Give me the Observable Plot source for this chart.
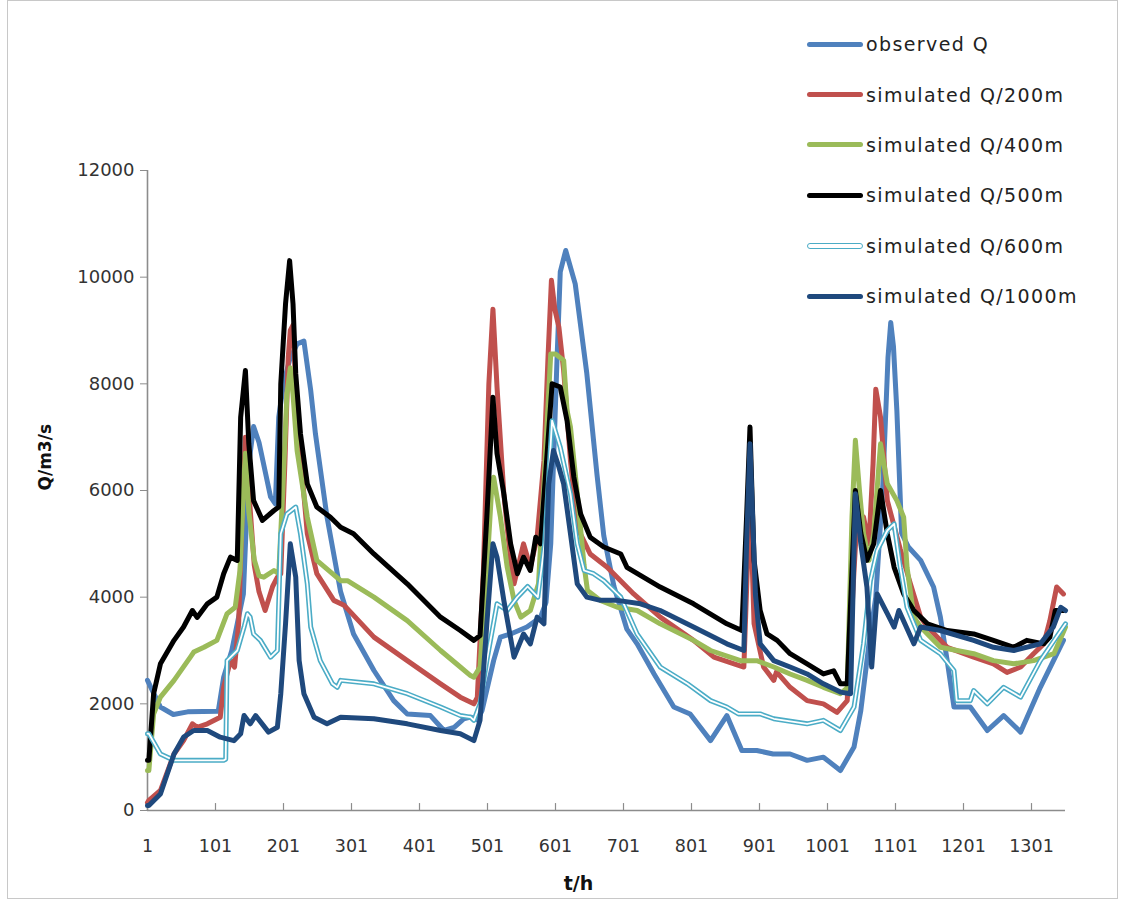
<!DOCTYPE html>
<html>
<head>
<meta charset="utf-8">
<script src="https://cdn.jsdelivr.net/npm/d3@7"></script>
<script src="https://cdn.jsdelivr.net/npm/@observablehq/plot@0.6"></script>
<style>
  body { margin: 0; background: #fff; }
  #wrap { position: relative; width: 1124px; height: 902px; overflow: hidden; }
  #frame { position: absolute; left: 7px; top: 0px; width: 1111px; height: 899px; border: 1.5px solid #c8c8c8; box-sizing: border-box; pointer-events: none; }
  #legend { position: absolute; left: 807px; top: 19px; font-family: "DejaVu Sans", sans-serif; font-size: 19px; letter-spacing: 1.4px; color: #222; }
  .row { display: flex; align-items: center; height: 50.4px; }
  .swatch { width: 56px; height: 5px; border-radius: 3px; margin-right: 3px; box-sizing: border-box; }
</style>
</head>
<body>
<div id="wrap">
  <div id="chart"></div>
  <div id="legend"></div>
  <div id="frame"></div>
</div>
<script>
// ---- tick labels and titles ----
const xTicks = [1, 101, 201, 301, 401, 501, 601, 701, 801, 901, 1001, 1101, 1201, 1301];
const yTicks = [0, 2000, 4000, 6000, 8000, 10000, 12000];
const xTitle = "t/h";
const yTitle = "Q/m3/s";

// ---- series names and colours ----
const seriesNames = ["observed Q", "simulated Q/200m", "simulated Q/400m", "simulated Q/500m", "simulated Q/600m", "simulated Q/1000m"];
const seriesColors = ["#4F81BD", "#C0504D", "#9BBB59", "#000000", "#4BACC6", "#1F497D"];

// ---- series values: [hour, discharge m3/s] ----
const observedQ = [[1,2440],[10,2200],[20,1940],[39,1800],[60,1850],[105,1860],[113,2500],[125,3000],[133,3500],[142,4060],[150,6500],[157,7200],[165,6900],[175,6300],[182,5880],[189,5750],[194,7375],[201,8000],[210,8450],[221,8750],[231,8800],[241,7880],[248,7060],[265,5500],[285,4100],[304,3310],[334,2625],[363,2060],[383,1810],[417,1780],[437,1500],[452,1560],[466,1720],[476,1750],[486,1700],[493,1875],[510,2810],[520,3250],[535,3310],[559,3440],[579,3625],[587,3900],[594,5000],[603,8375],[608,10100],[616,10500],[630,9875],[647,8200],[662,6300],[672,5150],[687,4200],[706,3400],[721,3125],[746,2560],[775,1940],[799,1810],[829,1310],[853,1780],[875,1125],[897,1125],[921,1060],[946,1060],[971,940],[995,1000],[1020,750],[1040,1190],[1050,1875],[1062,3125],[1072,4000],[1082,6000],[1090,8500],[1094,9150],[1098,8700],[1103,7500],[1110,5200],[1120,4940],[1138,4690],[1157,4190],[1167,3625],[1177,2810],[1187,1940],[1211,1940],[1236,1500],[1260,1780],[1285,1470],[1314,2310],[1348,3190]];

const simQ200 = [[1,150],[3,190],[20,375],[40,1060],[54,1310],[67,1625],[74,1560],[89,1625],[108,1750],[113,2310],[123,2810],[129,2690],[135,3500],[140,5500],[145,7000],[150,6000],[158,4600],[165,4100],[174,3750],[185,4200],[192,4375],[197,4440],[203,6500],[208,8500],[211,9000],[215,9100],[221,7375],[236,5190],[250,4440],[275,3940],[290,3850],[334,3250],[383,2810],[432,2375],[461,2125],[481,2000],[486,2120],[495,4500],[503,8000],[509,9400],[515,7940],[525,5940],[535,4690],[540,4250],[554,5000],[564,4560],[574,5125],[584,6560],[590,8500],[595,9940],[600,9400],[606,9060],[613,8250],[623,6560],[633,5310],[652,4810],[677,4560],[716,4060],[755,3625],[804,3190],[834,2875],[878,2690],[883,4500],[887,6000],[893,3500],[907,2690],[922,2440],[926,2600],[946,2310],[971,2060],[995,2000],[1015,1840],[1030,2060],[1040,4500],[1045,5600],[1054,5500],[1062,5000],[1068,6500],[1072,7900],[1079,7375],[1089,5810],[1108,4900],[1123,4250],[1138,3625],[1148,3440],[1177,3060],[1216,2875],[1245,2750],[1265,2590],[1285,2690],[1304,2940],[1319,3125],[1328,3560],[1338,4190],[1348,4060]];

const simQ400 = [[1,750],[3,750],[10,1810],[20,2125],[40,2440],[64,2875],[69,2970],[84,3060],[103,3190],[118,3690],[130,3810],[137,4500],[142,6000],[145,6700],[150,5600],[158,4700],[165,4400],[172,4375],[187,4500],[194,4440],[200,6000],[206,7800],[211,8300],[215,7800],[221,6750],[236,5500],[250,4690],[285,4310],[295,4310],[334,4000],[383,3560],[432,3000],[461,2690],[476,2530],[481,2500],[490,2690],[500,4500],[507,6000],[510,6250],[520,5500],[530,4560],[540,3940],[550,3625],[564,3750],[576,4250],[584,6125],[594,8560],[601,8560],[613,8440],[618,7500],[623,7190],[633,5940],[643,4600],[648,4125],[667,3940],[692,3810],[721,3750],[755,3500],[804,3190],[829,3000],[873,2810],[897,2810],[922,2690],[946,2560],[971,2440],[995,2310],[1020,2190],[1030,2300],[1037,5500],[1042,6940],[1048,6000],[1054,5190],[1062,4690],[1069,5190],[1079,6875],[1089,6125],[1103,5810],[1113,5500],[1118,4560],[1128,3625],[1138,3440],[1167,3060],[1216,2940],[1245,2810],[1275,2750],[1304,2810],[1334,2940],[1351,3440]];

const simQ500 = [[1,940],[3,940],[10,2190],[20,2750],[40,3190],[54,3440],[67,3750],[74,3620],[89,3875],[103,4000],[113,4440],[121,4690],[123,4750],[133,4690],[138,7375],[145,8250],[150,6875],[157,5810],[170,5440],[187,5625],[194,5690],[197,8000],[204,9500],[210,10310],[215,9500],[219,8190],[226,7060],[236,6125],[250,5690],[270,5500],[285,5310],[304,5190],[334,4810],[383,4250],[432,3625],[461,3375],[481,3190],[490,3280],[500,5500],[509,7750],[515,6690],[525,5940],[535,5000],[545,4440],[554,4750],[564,4500],[572,5125],[579,5000],[589,6750],[596,8000],[608,7940],[618,7310],[628,6250],[638,5560],[652,5125],[672,4940],[697,4810],[706,4560],[755,4190],[804,3875],[853,3500],[875,3375],[882,5500],[887,7190],[893,4690],[902,3750],[912,3310],[927,3190],[946,2940],[971,2750],[995,2560],[1010,2620],[1020,2375],[1030,2375],[1037,4500],[1042,6000],[1050,5200],[1059,4690],[1069,5000],[1079,6000],[1089,5190],[1099,4560],[1113,4060],[1128,3750],[1148,3500],[1177,3375],[1216,3310],[1245,3190],[1275,3060],[1294,3190],[1319,3125],[1328,3250],[1336,3750],[1348,3750]];

const simQ600 = [[1,1440],[3,1440],[20,1060],[40,940],[113,940],[116,960],[118,2810],[133,3000],[143,3440],[148,3690],[152,3625],[157,3310],[167,3190],[182,2875],[192,3000],[197,5190],[206,5560],[219,5690],[226,5190],[236,4250],[241,3440],[255,2810],[273,2375],[280,2310],[285,2440],[334,2375],[383,2190],[432,1940],[461,1780],[476,1750],[481,1690],[490,2000],[500,2810],[515,3875],[530,3750],[545,4000],[560,4200],[575,4000],[585,5000],[596,7310],[608,6810],[623,5940],[633,5000],[643,4500],[657,4440],[672,4310],[697,4000],[721,3310],[755,2690],[795,2375],[829,2060],[853,1940],[870,1810],[902,1810],[922,1720],[971,1625],[995,1690],[1020,1500],[1040,1940],[1054,3125],[1064,4300],[1074,4875],[1089,5250],[1099,5375],[1108,4560],[1118,3810],[1138,3190],[1167,2940],[1187,2625],[1191,2060],[1211,2060],[1216,2250],[1236,2000],[1260,2310],[1285,2125],[1314,2810],[1351,3500]];

const simQ1000 = [[1,94],[3,94],[20,310],[40,1060],[54,1375],[69,1500],[89,1500],[108,1375],[128,1310],[138,1440],[143,1780],[152,1625],[160,1780],[179,1470],[192,1560],[197,2190],[204,3500],[211,5000],[219,4375],[224,2810],[231,2190],[246,1750],[265,1625],[285,1750],[334,1720],[383,1625],[432,1500],[461,1440],[481,1310],[490,1690],[500,3500],[509,5000],[515,4750],[525,3940],[540,2875],[554,3310],[564,3125],[574,3625],[584,3500],[591,6125],[598,6750],[606,6440],[613,6125],[623,5190],[633,4250],[647,4000],[667,3940],[692,3940],[726,3875],[755,3750],[804,3440],[853,3125],[878,3000],[882,5000],[887,6875],[895,4060],[902,3125],[922,2810],[946,2690],[971,2560],[995,2375],[1020,2220],[1035,2190],[1042,5940],[1050,5000],[1059,4190],[1066,2690],[1074,4060],[1089,3690],[1099,3440],[1106,3750],[1128,3125],[1138,3440],[1167,3375],[1216,3190],[1245,3060],[1275,3000],[1314,3125],[1333,3440],[1344,3810],[1351,3750]];

const seriesValues = [observedQ, simQ200, simQ400, simQ500, simQ600, simQ1000];

// build a tidy table for the library
const rows = seriesValues.flatMap((vals, i) => vals.map(([t, q]) => ({series: seriesNames[i], t, q})));

const axisGray = "#8c8c8c";
const textColor = "#333";
const lineW = 5;

const lineMarks = seriesNames.flatMap((name, i) => {
  const data = rows.filter(d => d.series === name);
  const base = Plot.line(data, {x: "t", y: "q", stroke: seriesColors[i], strokeWidth: lineW, strokeLinejoin: "round", strokeLinecap: "round"});
  if (name === "simulated Q/600m") {
    return [base, Plot.line(data, {x: "t", y: "q", stroke: "#ffffff", strokeWidth: 1.8, strokeLinejoin: "round", strokeLinecap: "round"})];
  }
  return [base];
});

const chart = Plot.plot({
  width: 1124,
  height: 902,
  marginLeft: 147,
  marginRight: 59,
  marginTop: 170,
  marginBottom: 92,
  style: {fontFamily: '"DejaVu Sans", sans-serif', fontSize: "18px", color: textColor, background: "transparent", overflow: "visible"},
  x: {domain: [1, 1351], inset: 0},
  y: {domain: [0, 12000], inset: 0},
  marks: [
    Plot.axisY({ticks: yTicks, tickSize: 7, tickPadding: 6, tickFormat: d3.format("d"), label: null, stroke: axisGray, fill: textColor, fontSize: 18}),
    Plot.axisX({ticks: xTicks, tickSize: 0, tickPadding: 29, tickFormat: d => String(d), label: null, fill: textColor, fontSize: 17.5}),
    Plot.ruleX(xTicks, {y1: 0, y2: 130, stroke: axisGray, strokeWidth: 1.2}),
    Plot.ruleY([0], {stroke: axisGray, strokeWidth: 1.6}),
    Plot.ruleX([1], {stroke: axisGray, strokeWidth: 1.6}),
    ...lineMarks,
    Plot.text([yTitle], {frameAnchor: "left", rotate: -90, dx: -102, fontWeight: "bold", fontSize: 17, fill: "#111"}),
    Plot.text([xTitle], {frameAnchor: "bottom", dx: -28, dy: 79, fontWeight: "bold", fontSize: 19, fill: "#111"})
  ]
});
document.getElementById("chart").appendChild(chart);

// legend (inside plot area, upper right)
const legend = document.getElementById("legend");
seriesNames.forEach((name, i) => {
  const row = document.createElement("div");
  row.className = "row";
  const sw = document.createElement("div");
  sw.className = "swatch";
  if (name === "simulated Q/600m") {
    sw.style.background = "#fff";
    sw.style.border = "1.6px solid " + seriesColors[i];
    sw.style.height = "6px";
  } else {
    sw.style.background = seriesColors[i];
  }
  const label = document.createElement("span");
  label.textContent = name;
  row.appendChild(sw);
  row.appendChild(label);
  legend.appendChild(row);
});
</script>
</body>
</html>
